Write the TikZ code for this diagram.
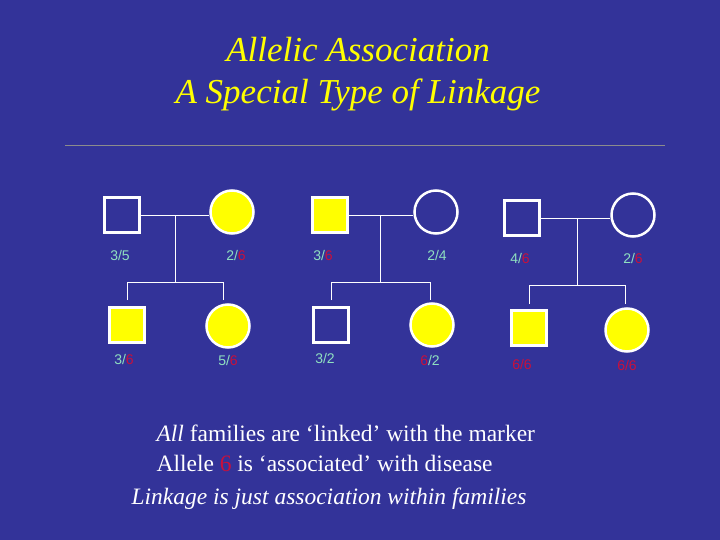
\documentclass[tikz,border=0pt]{standalone}
\usepackage{fontspec}
\setmainfont{Liberation Serif}
\setsansfont{Liberation Sans}
\begin{document}
\definecolor{bg}{HTML}{333399}
\definecolor{lab}{HTML}{8FE0C0}
\definecolor{rd}{HTML}{C8103C}
\definecolor{yel}{HTML}{FFFF00}
\begin{tikzpicture}[x=1pt,y=-1pt,
  sq/.style={draw=white,line width=2.5pt,minimum size=35pt,inner sep=0pt},
  ci/.style={circle,draw=white,line width=2.5pt,minimum size=43pt,inner sep=0pt},
  aff/.style={fill=yel},
  un/.style={fill=none},
  ln/.style={draw=white,line width=1pt},
  lb/.style={font=\sffamily\fontsize{14}{14}\selectfont,text=lab},
  ttl/.style={font=\itshape\fontsize{35}{35}\selectfont,text=yel}]
\fill[bg] (0,0) rectangle (720,540);
\useasboundingbox (0,0) rectangle (720,540);
\node[ttl] (t1) at (358,50) {Allelic Association};
\node[ttl] (t2) at (358,95) {A Special Type of Linkage};
\draw[black!45,line width=0.8pt] (65,145) -- (665,145);
% family 1
\node[sq,un] (a1) at (122,215) {};
\node[ci,aff] (a2) at (232,212) {};
\node[sq,aff] (a3) at (127,325) {};
\node[ci,aff] (a4) at (228,326) {};
\coordinate (m1) at (175,216);
\draw[ln] (a1.east|-m1) -- (a2.west|-m1);
\draw[ln] (m1) -- (175,282);
\draw[ln] (127,300) -- (127,282) -- (223,282) -- (223,300);
% family 2
\node[sq,aff] (b1) at (330,215) {};
\node[ci,un] (b2) at (436,212) {};
\node[sq,un] (b3) at (331,325) {};
\node[ci,aff] (b4) at (432,325) {};
\coordinate (m2) at (380,216);
\draw[ln] (b1.east|-m2) -- (b2.west|-m2);
\draw[ln] (m2) -- (380,282);
\draw[ln] (331,300) -- (331,282) -- (430,282) -- (430,300);
% family 3
\node[sq,un] (c1) at (522,218) {};
\node[ci,un] (c2) at (633,215) {};
\node[sq,aff] (c3) at (529,328) {};
\node[ci,aff] (c4) at (627,330) {};
\coordinate (m3) at (577,219);
\draw[ln] (c1.east|-m3) -- (c2.west|-m3);
\draw[ln] (m3) -- (577,285);
\draw[ln] (529,304) -- (529,285) -- (625,285) -- (625,304);
% labels
\node[lb] (la1) at (120,255) {3/5};
\node[lb] (la2) at (236,255) {2/\textcolor{rd}{6}};
\node[lb] (la3) at (124,359) {3/\textcolor{rd}{6}};
\node[lb] (la4) at (228,360) {5/\textcolor{rd}{6}};
\node[lb] (lb1) at (323,255) {3/\textcolor{rd}{6}};
\node[lb] (lb2) at (437,255) {2/4};
\node[lb] (lb3) at (325,358) {3/2};
\node[lb] (lb4) at (430,360) {\textcolor{rd}{6}/2};
\node[lb] (lc1) at (520,258) {4/\textcolor{rd}{6}};
\node[lb] (lc2) at (633,258) {2/\textcolor{rd}{6}};
\node[lb,text=rd] (lc3) at (522,364) {6/6};
\node[lb,text=rd] (lc4) at (627,365) {6/6};
% bottom text
\node[anchor=west,text=white,font=\fontsize{23.5}{23.5}\selectfont] (x1) at (153,433) {\textit{All} families are ‘linked’ with the marker};
\node[anchor=west,text=white,font=\fontsize{23.5}{23.5}\selectfont] (x2) at (153,463) {Allele \textcolor{rd}{6} is ‘associated’ with disease};
\node[text=white,font=\itshape\fontsize{23.5}{23.5}\selectfont] (x3) at (329,499) {Linkage is just association within families};
\end{tikzpicture}
\end{document}
